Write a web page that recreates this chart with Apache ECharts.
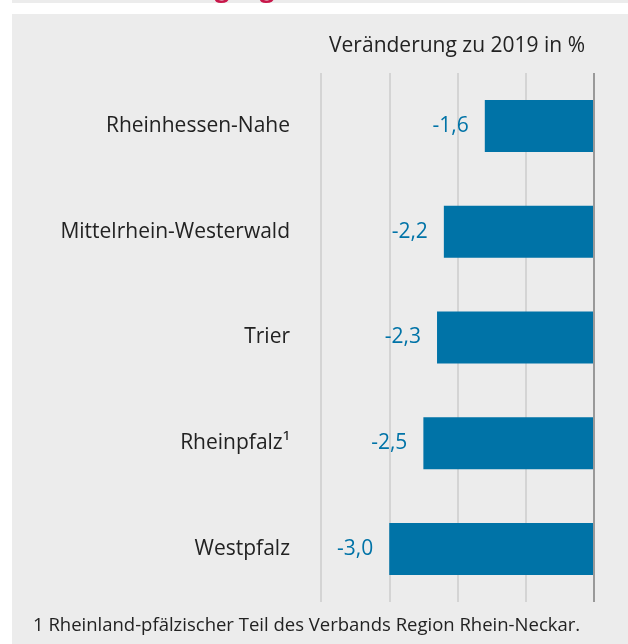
<!DOCTYPE html>
<html>
<head>
<meta charset="utf-8">
<script src="https://cdn.jsdelivr.net/npm/echarts@6/dist/echarts.min.js"></script>
<style>
  html, body { margin: 0; padding: 0; background: #fff; }
  #main { width: 628px; height: 644px; }
</style>
</head>
<body>
<div id="main"></div>
<script>
// Regionen (von oben nach unten)
let regionen = ["Rheinhessen-Nahe", "Mittelrhein-Westerwald", "Trier", "Rheinpfalz¹", "Westpfalz"];
// Veränderung zu 2019 in %
let werte = [-1.6, -2.2, -2.3, -2.5, -3.0];

let fontName = "Open Sans";
let blau = "#0073a7";

var myChart = echarts.init(document.getElementById('main'));

var option = {
    backgroundColor: "#ffffff",
    animation: false,
    textStyle: { fontFamily: fontName },
    title: {
        text: "Veränderung zu 2019 in %",
        right: 38,
        top: 31,
        textStyle: { fontFamily: fontName, fontSize: 21, fontWeight: "normal", color: "#222" }
    },
    graphic: [
        { type: "rect", shape: { x: 12, y: 0, width: 616, height: 3 }, style: { fill: "#ececec" }, z: -10 },
        { type: "rect", shape: { x: 12, y: 14, width: 616, height: 630 }, style: { fill: "#ececec" }, z: -10 },
        // abgeschnittene rote Überschrift darüber
        { type: "text", x: 222, y: -23, style: { text: "g", fill: "#c8174a", font: "bold 26px 'Open Sans'", textAlign: "center" }, z: -5 },
        { type: "text", x: 267, y: -23, style: { text: "g", fill: "#c8174a", font: "bold 26px 'Open Sans'", textAlign: "center" }, z: -5 },
        { type: "text", left: 33, top: 616, style: { text: "1 Rheinland-pfälzischer Teil des Verbands Region Rhein-Neckar.", fill: "#222", font: "18.5px 'Open Sans'" } }
    ],
    grid: { left: 321, right: 34, top: 73, bottom: 42 },
    xAxis: {
        type: "value",
        min: -4,
        max: 0,
        interval: 1,
        axisLabel: { show: false },
        axisLine: { show: false },
        axisTick: { show: false },
        splitLine: { lineStyle: { color: "#cdcdcd", width: 1.5 } }
    },
    yAxis: {
        type: "category",
        inverse: true,
        data: regionen,
        axisLine: { show: false },
        axisTick: { show: false },
        axisLabel: { margin: 31, fontSize: 21, color: "#222", fontFamily: fontName }
    },
    series: [{
        type: "bar",
        data: werte,
        barWidth: 52,
        itemStyle: { color: blau },
        label: {
            show: true,
            position: "left",
            distance: 16,
            fontSize: 21,
            color: blau,
            fontFamily: fontName,
            formatter: function (p) { return p.value.toFixed(1).replace(".", ","); }
        },
        markLine: {
            silent: true,
            symbol: "none",
            label: { show: false },
            lineStyle: { color: "#999", width: 2, type: "solid" },
            data: [{ xAxis: 0 }]
        }
    }]
};

myChart.setOption(option);
</script>
</body>
</html>
